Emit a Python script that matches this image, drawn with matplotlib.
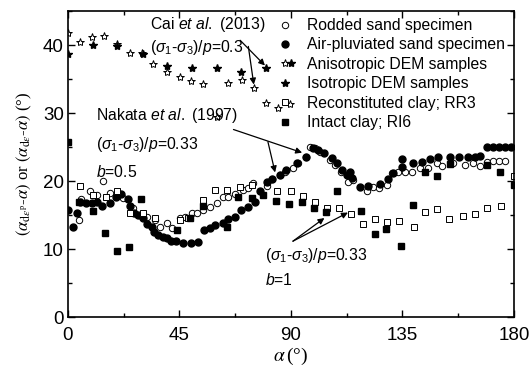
import matplotlib
matplotlib.use('Agg')
import matplotlib.pyplot as plt
from matplotlib.ticker import MultipleLocator

plt.rcParams['font.family'] = 'Liberation Sans'
plt.rcParams['mathtext.fontset'] = 'custom'
plt.rcParams['mathtext.rm'] = 'Liberation Sans'
plt.rcParams['mathtext.it'] = 'Liberation Sans:italic'
plt.rcParams['mathtext.bf'] = 'Liberation Sans:bold'

# Rodded sand specimen (open circles)
rod_x = [4.4, 5.4, 8.9, 11.6, 14.3, 17, 20.3, 22.3, 26.3, 31.8, 35.1, 37.1, 39.8, 41.9,
         45.2, 47.2, 50, 52, 54.6, 57.3, 60, 62.5, 64.6, 67.4, 70.5, 72.7, 74.8, 80.2,
         82.2, 85.5, 87.6, 90.9, 92.9, 96, 97.7, 99.7, 101.7, 105.7, 107.7, 110.3, 113,
         115, 120.7, 123, 125.5, 128.7, 130.7, 133.2, 136, 138.8, 142, 145.3, 148.9,
         150.9, 155.4, 160.2, 163.4, 166.3, 169, 171.5, 173.9, 176.5]
rod_y = [14.3, 17.4, 18.6, 18.0, 20.0, 18.3, 18.0, 17.6, 16.1, 14.8, 14.3, 13.3, 13.8, 13.2,
         14.6, 14.8, 15.3, 15.4, 15.8, 16.2, 16.8, 17.7, 17.7, 18.2, 18.7, 19.0, 19.8, 19.3,
         20.3, 20.9, 21.4, 22.0, 22.7, 23.6, 25.0, 24.9, 24.3, 23.1, 22.4, 21.4, 19.9,
         20.2, 18.6, 19.2, 19.0, 19.5, 21.2, 21.4, 21.4, 21.4, 22.0, 22.0, 22.7,
         22.3, 22.7, 22.4, 22.7, 22.3, 22.9, 23.0, 23.0, 23.0]

# Air-pluviated sand specimen (filled circles)
air_x = [0, 2, 3.7, 4.8, 7.3, 9.6, 11.6, 13.6, 17, 19.4, 21.6, 24.3, 25, 26.5, 28.4, 30.4,
         31.8, 33.8, 34.7, 36.5, 38.4, 39.8, 41.4, 43.8, 46.5, 49.5, 52.6, 54.8, 57.5,
         59.4, 62.4, 64.7, 67.4, 69.7, 72.7, 75.5, 77.5, 80.3, 82.3, 85.5, 88, 92.4, 96,
         98.8, 101, 103.3, 106.5, 108.6, 110.6, 112.6, 113.8, 114.6, 117.8, 121, 125.9,
         129, 131.2, 134.8, 134.8, 139.2, 142.8, 146, 149.3, 154.2, 157.8, 161.4, 164.2,
         166.3, 169, 171.5, 173.9, 176.4, 179]
air_y = [15.8, 13.3, 15.3, 17.0, 16.8, 16.8, 17.0, 16.3, 16.8, 17.7, 18.2, 17.4, 16.3, 15.3,
         15.0, 14.6, 13.7, 13.3, 12.5, 12.1, 11.8, 11.7, 11.2, 11.2, 10.9, 10.9, 11.1, 12.8,
         13.2, 13.6, 13.8, 14.4, 14.8, 15.8, 16.2, 17.0, 18.5, 19.9, 20.3, 20.9, 21.7, 22.7,
         23.6, 24.9, 24.6, 24.1, 23.4, 22.7, 21.7, 20.9, 21.4, 20.5, 19.2, 19.3, 19.6,
         20.4, 21.2, 23.2, 22.1, 22.7, 22.9, 23.2, 23.5, 23.5, 23.5, 23.5, 23.6,
         23.7, 25.0, 25.0, 25.0, 25.0, 25.0]

# Anisotropic DEM samples (open stars)
ani_x = [0, 4.8, 9.6, 14.5, 19.7, 25, 29.8, 34.4, 39.8, 45.2, 49.6, 54.5, 60, 64.6, 70.2,
         75, 80, 84.7, 89.6]
ani_y = [41.8, 40.5, 41.2, 41.4, 40.2, 38.9, 38.9, 37.2, 36.1, 35.3, 34.7, 34.3, 29.5, 34.4,
         34.9, 33.7, 31.5, 30.8, 31.4]

# Isotropic DEM samples (filled stars)
iso_x = [0, 10, 19.7, 30.2, 39.8, 50, 60, 70, 80, 90]
iso_y = [38.7, 40.0, 39.8, 38.7, 36.9, 36.6, 36.6, 36.1, 36.7, 37.4]

# Reconstituted clay; RR3 (open squares)
rr3_x = [4.8, 10, 15.3, 19.7, 25, 30.2, 35.1, 45.2, 48.4, 54.5, 59.3, 64.2, 69.4, 74.2,
         84.3, 90, 94.8, 99.7, 104.5, 109.4, 114.2, 119, 123.9, 128.7, 133.6, 139.6,
         144.1, 148.9, 153.8, 159.4, 164.2, 169.1, 174.7, 180]
rr3_y = [19.3, 18.0, 17.7, 18.5, 15.3, 15.3, 14.6, 14.3, 14.6, 17.3, 18.7, 18.7, 19.2, 19.5,
         18.6, 18.5, 17.9, 17.0, 16.1, 16.1, 15.2, 13.7, 14.5, 14.0, 14.2, 13.3,
         15.5, 15.9, 14.5, 14.9, 15.2, 16.1, 16.4, 20.8]

# Intact clay; RI6 (filled squares)
ri6_x = [0, 4.6, 10.1, 15, 19.8, 24.6, 29.5, 44, 49.2, 54.3, 64.1, 68.6, 74.2, 78.7, 84.1,
         89.2, 94.4, 99.3, 104.1, 108.6, 118.2, 123.9, 128.3, 134.4, 139.2, 144, 149,
         154.2, 169, 174.3, 180]
ri6_y = [25.7, 17.0, 15.7, 12.4, 9.8, 10.4, 17.4, 12.9, 14.6, 16.4, 13.3, 17.7, 17.5, 18.0,
         17.1, 16.6, 16.9, 16.0, 15.5, 18.6, 15.7, 12.3, 13.0, 10.5, 16.5, 21.4, 20.8,
         22.6, 22.4, 21.4, 19.5]

fig = plt.figure(figsize=(5.29, 3.67), dpi=100)
ax = fig.add_axes([0.1285, 0.135, 0.843, 0.835])

ax.plot(rod_x, rod_y, 'o', mfc='white', mec='black', mew=0.7, ms=4.6, ls='none',
        label='Rodded sand specimen')
ax.plot(air_x, air_y, 'o', mfc='black', mec='black', ms=5.0, ls='none',
        label='Air-pluviated sand specimen')
ax.plot(ani_x, ani_y, '*', mfc='white', mec='black', mew=0.7, ms=6.0, ls='none',
        label='Anisotropic DEM samples')
ax.plot(iso_x, iso_y, '*', mfc='black', mec='black', ms=6.0, ls='none',
        label='Isotropic DEM samples')
ax.plot(rr3_x, rr3_y, 's', mfc='white', mec='black', mew=0.7, ms=3.8, ls='none',
        label='Reconstituted clay; RR3')
ax.plot(ri6_x, ri6_y, 's', mfc='black', mec='black', ms=4.2, ls='none',
        label='Intact clay; RI6')

ax.set_xlim(0, 180)
ax.set_ylim(0, 45)
ax.xaxis.set_major_locator(MultipleLocator(45))
ax.xaxis.set_minor_locator(MultipleLocator(22.5))
ax.yaxis.set_major_locator(MultipleLocator(10))
ax.yaxis.set_minor_locator(MultipleLocator(5))
ax.tick_params(which='both', direction='in', top=True, right=True, width=1.0)
ax.tick_params(which='major', length=5, labelsize=13.5)
ax.tick_params(which='minor', length=3)
ax.tick_params(axis='x', pad=7)
ax.tick_params(axis='y', pad=3)
for s in ax.spines.values():
    s.set_linewidth(1.2)

ax.set_xlabel(r'$\alpha\,$(°)', fontsize=14, family='Liberation Serif',
              math_fontfamily='stix', labelpad=1)
ax.set_ylabel(r'$(\alpha_{\mathrm{d}\varepsilon^{\mathrm{p}}}$-$\alpha)$ or '
              r'$(\alpha_{\mathrm{d}\varepsilon}$-$\alpha)$ (°)',
              fontsize=12, family='Liberation Serif', math_fontfamily='stix',
              labelpad=6)

ax.legend(loc='upper left', bbox_to_anchor=(0.472, 0.977), frameon=False,
          fontsize=11.3, handlelength=0.8, handletextpad=1.0, borderpad=0,
          borderaxespad=0, labelspacing=0.28, numpoints=1)

fs = 11.3
ax.text(33, 42.3, r'Cai $\mathit{et\ al.}$ (2013)', fontsize=fs)
ax.text(33, 39, r'($\mathit{\sigma}_1$-$\mathit{\sigma}_3$)/$\mathit{p}$=0.3', fontsize=fs)
ax.text(11.5, 29.0, r'Nakata $\mathit{et\ al.}$ (1997)', fontsize=fs)
ax.text(11.5, 24.7, r'($\mathit{\sigma}_1$-$\mathit{\sigma}_3$)/$\mathit{p}$=0.33', fontsize=fs)
ax.text(11.5, 20.6, r'$\mathit{b}$=0.5', fontsize=fs)
ax.text(79.5, 8.4, r'($\mathit{\sigma}_1$-$\mathit{\sigma}_3$)/$\mathit{p}$=0.33', fontsize=fs)
ax.text(79.5, 4.7, r'$\mathit{b}$=1', fontsize=fs)

aprops = dict(arrowstyle='-|>', color='black', lw=0.9, mutation_scale=9,
              shrinkA=0, shrinkB=0)
ax.annotate('', xy=(79.5, 37.0), xytext=(69.5, 40.7), arrowprops=aprops)
ax.annotate('', xy=(75.0, 34.2), xytext=(72.8, 39.8), arrowprops=aprops)
ax.annotate('', xy=(94.5, 24.2), xytext=(66.8, 27.6), arrowprops=aprops)
ax.annotate('', xy=(83.6, 21.3), xytext=(80.7, 25.8), arrowprops=aprops)
ax.annotate('', xy=(103.5, 14.6), xytext=(90.8, 11.2), arrowprops=aprops)
ax.annotate('', xy=(113.0, 15.4), xytext=(90.8, 11.2), arrowprops=aprops)

fig.savefig('out.png', dpi=100)
